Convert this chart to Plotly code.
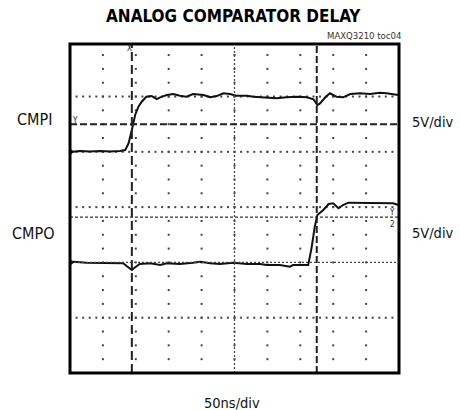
import plotly.graph_objects as go

# ---- data ----
# time in ns (50 ns/div, 10 div), voltage in V (5 V/div)
cmpi_t = [0, 15, 30, 46, 61, 76, 84, 89, 94, 99, 104, 109, 116, 124, 132, 137, 147, 157,
          167, 177, 187, 203, 213, 223, 233, 243, 253, 269, 279, 299, 314, 329, 345, 360,
          370, 376, 380, 388, 395, 405, 415, 426, 441, 456, 471, 481, 491, 499]
cmpi_v = [-0.02, 0.07, 0.03, 0.07, 0.03, 0.07, 0.16, 0.77, 1.97, 3.33, 4.08, 4.53, 4.98,
          5.04, 4.77, 4.93, 5.13, 5.23, 5.07, 4.98, 5.23, 5.13, 4.93, 5.04, 5.29, 5.23,
          5.07, 5.07, 4.98, 4.93, 4.84, 4.93, 4.98, 4.93, 4.75, 4.23, 4.38, 4.93, 5.29,
          4.98, 4.93, 5.23, 5.29, 5.23, 5.34, 5.29, 5.23, 5.13]

cmpo_t = [0, 5, 25, 46, 66, 81, 86, 94, 99, 106, 122, 137, 147, 167, 187, 198, 213, 228,
          248, 269, 289, 299, 319, 334, 339, 362, 367, 372, 376, 385, 393, 400, 408, 415,
          423, 441, 461, 481, 491, 499]
cmpo_v = [0.04, 0.06, -0.03, -0.03, -0.03, -0.08, -0.33, -0.69, -0.44, -0.14, -0.08,
          -0.24, -0.08, -0.14, -0.03, 0.06, -0.08, -0.14, -0.03, -0.14, -0.14, -0.24,
          -0.24, -0.39, -0.24, -0.24, 1.27, 3.23, 4.28, 4.74, 5.28, 5.34, 4.89, 5.19,
          5.40, 5.40, 5.40, 5.40, 5.34, 5.19]

volts_per_div = 5
cmpi_ground_div = 4
cmpo_ground_div = 2

cursor_t = [94, 375]          # time cursors (ns)
threshold_div = [4.5, 2.82]   # level markers (div)

FONT = "DejaVu Sans Condensed, Liberation Sans Narrow, sans-serif"

fig = go.Figure()

# grid dots: columns at every division, rows on grid lines 1,3,4,5
col_x, col_y = [], []
for k in range(1, 10):
    for j in range(1, 24):
        col_x.append(50 * k)
        col_y.append(0.25 * j)
for gy in [1, 3, 4, 5]:
    for m in range(1, 50):
        col_x.append(10 * m)
        col_y.append(gy)
fig.add_trace(go.Scatter(x=col_x, y=col_y, mode="markers",
                         marker=dict(symbol="square", size=2, color="#444"),
                         hoverinfo="skip", showlegend=False))

# dense grid lines
fig.add_shape(type="line", x0=250, x1=250, y0=0, y1=5.95,
              line=dict(color="#444", width=1.2, dash="2px,2px"))
fig.add_shape(type="line", x0=0, x1=500, y0=2, y1=2,
              line=dict(color="#444", width=1.2, dash="2px,2px"))
# level markers
fig.add_shape(type="line", x0=0, x1=500, y0=threshold_div[0], y1=threshold_div[0],
              line=dict(color="#222", width=2, dash="7px,3px"))
fig.add_shape(type="line", x0=0, x1=500, y0=threshold_div[1], y1=threshold_div[1],
              line=dict(color="#333", width=1.3, dash="3px,2px"))
# time cursors
fig.add_shape(type="line", x0=cursor_t[0], x1=cursor_t[0], y0=0, y1=5.95,
              line=dict(color="#222", width=2, dash="9px,4px"))
fig.add_shape(type="line", x0=cursor_t[1], x1=cursor_t[1], y0=0, y1=5.95,
              line=dict(color="#222", width=2, dash="7px,3px"))

# traces
fig.add_trace(go.Scatter(x=cmpi_t, y=[cmpi_ground_div + v / volts_per_div for v in cmpi_v],
                         mode="lines", line=dict(color="#111", width=2),
                         hoverinfo="skip", showlegend=False))
fig.add_trace(go.Scatter(x=cmpo_t, y=[cmpo_ground_div + v / volts_per_div for v in cmpo_v],
                         mode="lines", line=dict(color="#111", width=2),
                         hoverinfo="skip", showlegend=False))

# ground markers at left edge
fig.add_trace(go.Scatter(x=[2, 2], y=[cmpi_ground_div, cmpo_ground_div], mode="markers",
                         marker=dict(symbol="triangle-right", size=6, color="#111"),
                         hoverinfo="skip", showlegend=False, cliponaxis=False))

# frame
fig.add_shape(type="rect", xref="paper", yref="paper", x0=0, x1=1, y0=0, y1=1,
              line=dict(color="black", width=3))

small = dict(family=FONT, size=8, color="#222")
fig.add_annotation(x=cursor_t[0] - 4, y=5.86, text="X", showarrow=False, font=small)
fig.add_annotation(x=8, y=4.56, text="Y", showarrow=False, font=small)
fig.add_annotation(x=490, y=2.9, text="Y", showarrow=False, font=small)
fig.add_annotation(x=490, y=2.68, text="2", showarrow=False, font=small)

fig.add_annotation(xref="paper", yref="paper", x=0.498, y=1.084, xanchor="center", yanchor="middle",
                   text="<b>ANALOG COMPARATOR DELAY</b>",
                   showarrow=False, font=dict(family=FONT, size=17, color="#000"))
fig.add_annotation(xref="paper", yref="paper", x=1.012, y=1.027, xanchor="right", yanchor="middle",
                   text="MAXQ3210 toc04", showarrow=False,
                   font=dict(family=FONT, size=9.5, color="#333"))
lab = dict(family=FONT, size=16, color="#111")
lab2 = dict(family=FONT, size=14.5, color="#111")
fig.add_annotation(xref="paper", yref="paper", x=-0.108, y=0.769, xanchor="center", yanchor="middle",
                   text="CMPI", showarrow=False, font=lab)
fig.add_annotation(xref="paper", yref="paper", x=-0.112, y=0.4225, xanchor="center", yanchor="middle",
                   text="CMPO", showarrow=False, font=lab)
fig.add_annotation(xref="paper", yref="paper", x=1.033, y=0.763, xanchor="left", yanchor="middle",
                   text="5V/div", showarrow=False, font=lab2)
fig.add_annotation(xref="paper", yref="paper", x=1.033, y=0.4255, xanchor="left", yanchor="middle",
                   text="5V/div", showarrow=False, font=lab2)
fig.add_annotation(xref="paper", yref="paper", x=0.492, y=-0.091, xanchor="center", yanchor="middle",
                   text="50ns/div", showarrow=False, font=lab2)

fig.update_xaxes(range=[0, 500], showgrid=False, zeroline=False, showticklabels=False,
                 ticks="", fixedrange=True)
fig.update_yaxes(range=[0, 5.95], showgrid=False, zeroline=False, showticklabels=False,
                 ticks="", fixedrange=True)
fig.update_layout(width=460, height=410, margin=dict(l=70, r=61, t=44, b=37),
                  paper_bgcolor="white", plot_bgcolor="white", hovermode=False)

fig.write_html("out.html", config={"displayModeBar": False, "staticPlot": True},
               post_script="document.body.style.margin='0';document.body.style.overflow='hidden';")
